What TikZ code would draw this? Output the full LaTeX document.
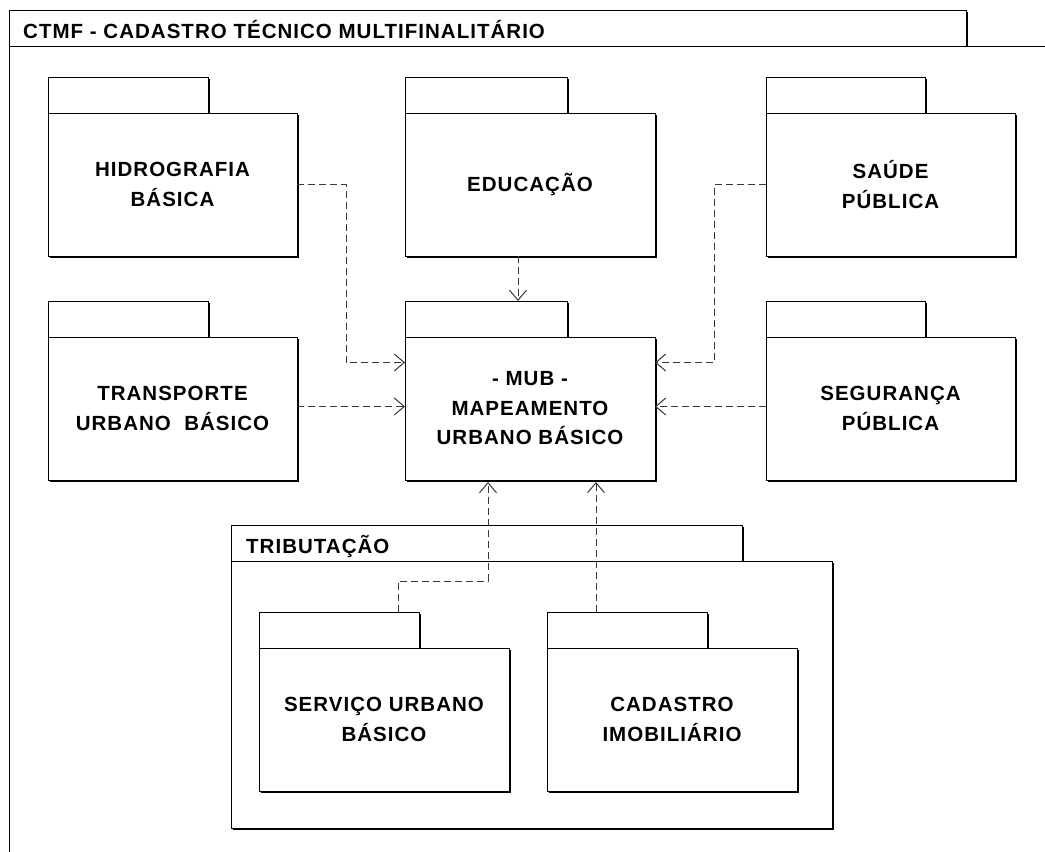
\documentclass[tikz,border=0pt]{standalone}
\usepackage{fontspec}
\setmainfont{Liberation Sans}
\newfontfamily\pkfont{Liberation Sans}[LetterSpace=5]
\usetikzlibrary{shadows,arrows.meta,calc}
\tikzset{
  pkg/.style={draw=black, line width=1pt, fill=white, inner sep=0pt, outer sep=0pt,
    anchor=north west, align=center,
    font=\pkfont\fontsize{20.5}{29.5}\selectfont\bfseries,
    drop shadow={shadow xshift=2pt, shadow yshift=-2pt, fill=black, opacity=1}},
  pkgtitle/.style={anchor=base west, inner sep=0pt, font=\pkfont\fontsize{20.5}{29.5}\selectfont\bfseries},
  dep/.style={draw=black!78, line width=1pt, dash pattern=on 7pt off 4pt,
    -{Straight Barb[length=10pt,width=17pt,line width=1pt]}}
}
\newcommand\pkbox[6]{\node[pkg, minimum width=#4, minimum height=#5] (#1) at (#2,#3) {#6};}
\begin{document}
\begin{tikzpicture}[x=1pt,y=-1pt]
\useasboundingbox (0,0) rectangle (1045,852);
\clip (0,0) rectangle (1045,852);
% outer frame CTMF
\pkbox{ctmfT}{9}{10}{957}{36}{}
\pkbox{ctmfB}{9}{46}{1070}{840}{}
\node[pkgtitle] (ctmfL) at (23,38) {CTMF - CADASTRO TÉCNICO MULTIFINALITÁRIO};
% row 1
\pkbox{hidT}{48}{77}{160}{36}{}
\pkbox{hidB}{48}{113}{249}{143}{HIDROGRAFIA\\BÁSICA}
\pkbox{eduT}{405}{77}{162}{36}{}
\pkbox{eduB}{405}{113}{250}{143}{EDUCAÇÃO}
\pkbox{sauT}{766}{77}{159}{36}{}
\pkbox{sauB}{766}{113}{249}{143}{SAÚDE\\PÚBLICA}
% row 2
\pkbox{traT}{48}{301}{160}{36}{}
\pkbox{traB}{48}{337}{249}{143}{TRANSPORTE\\URBANO\ \ BÁSICO}
\pkbox{mubT}{405}{301}{162}{36}{}
\pkbox{mubB}{405}{337}{250}{143}{- MUB -\\MAPEAMENTO\\URBANO BÁSICO}
\pkbox{segT}{766}{301}{159}{36}{}
\pkbox{segB}{766}{337}{249}{143}{SEGURANÇA\\PÚBLICA}
% Tributacao
\pkbox{triT}{231}{525}{511}{36}{}
\pkbox{triB}{231}{561}{601}{267}{}
\node[pkgtitle] (triL) at (246,553) {TRIBUTAÇÃO};
\pkbox{serT}{259}{612}{160}{36}{}
\pkbox{serB}{259}{648}{250}{143}{SERVIÇO URBANO\\BÁSICO}
\pkbox{cadT}{547}{612}{160}{36}{}
\pkbox{cadB}{547}{648}{250}{143}{CADASTRO\\IMOBILIÁRIO}
% dependencies
\draw[dep] (hidB.east) -- ++(49,0) |- ([yshift=46]mubB.west);
\draw[dep] ([yshift=2]traB.west -| traB.east) -- ([yshift=2]mubB.west);
\draw[dep] (sauB.west) -- ++(-52,0) |- ([yshift=46]mubB.east);
\draw[dep] ([yshift=2]segB.west) -- ([yshift=2]mubB.east);
\draw[dep] ([xshift=-12]eduB.south) -- ([xshift=-12]eduB.south |- mubT.north);
\draw[dep] ([xshift=59]serT.north) -- ++(0,-31) -| ([xshift=-42,yshift=-2]mubB.south);
\draw[dep] ([xshift=-31]cadT.north) -- ([xshift=-31,yshift=-2]cadT.north |- mubB.south);
\end{tikzpicture}
\end{document}
